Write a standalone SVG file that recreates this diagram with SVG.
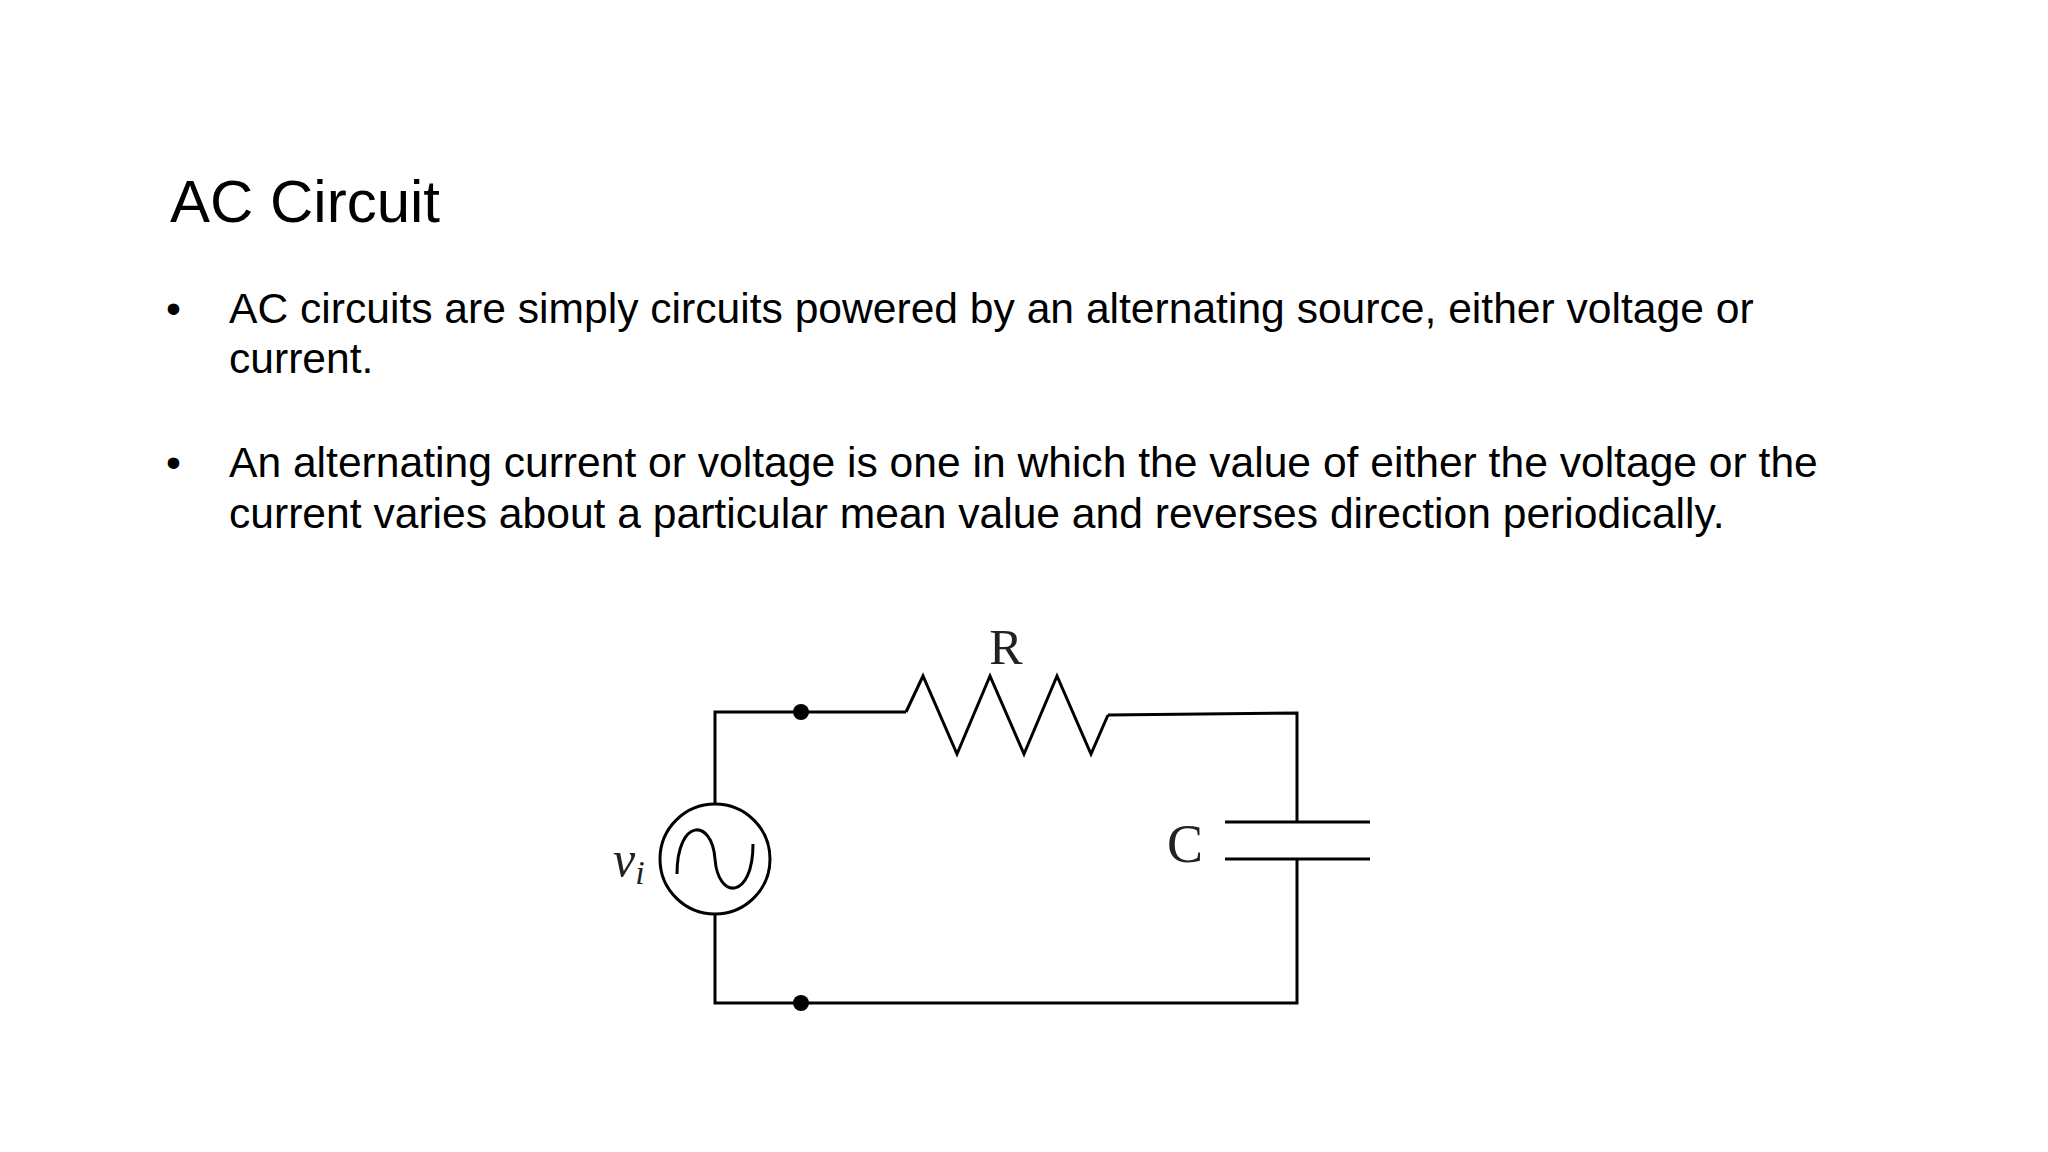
<svg xmlns="http://www.w3.org/2000/svg" width="2048" height="1152" viewBox="0 0 2048 1152">
<style>
.t{font-family:"Liberation Sans",Arial,sans-serif;fill:#000}
.w{stroke:#000;stroke-width:3;fill:none}
.s{font-family:"Liberation Serif","Times New Roman",serif;fill:#222}
</style>
<rect width="2048" height="1152" fill="#fff"/>
<text class="t" x="170" y="222" font-size="60">AC Circuit</text>
<g class="t" font-size="42.6">
<text x="166" y="323">•</text>
<text x="229" y="323">AC circuits are simply circuits powered by an alternating source, either voltage or</text>
<text x="229" y="373">current.</text>
<text x="166" y="477">•</text>
<text x="229" y="477">An alternating current or voltage is one in which the value of either the voltage or the</text>
<text x="229" y="528">current varies about a particular mean value and reverses direction periodically.</text>
</g>
<g id="connectors">
<polyline class="w" points="715,804 715,712 906,712"/>
<polyline class="w" points="715,914 715,1003 1297,1003 1297,859"/>
<polyline class="w" points="1108,715 1297,713 1297,822"/>
</g>
<g id="resistor">
<polyline class="w" points="906,712 923,676 957,754 990,676 1024,754 1057,676 1091,754 1108,715"/>
<text class="s" x="1006" y="664" font-size="50" text-anchor="middle">R</text>
</g>
<g id="capacitor">
<line class="w" x1="1225" y1="822" x2="1370" y2="822"/>
<line class="w" x1="1225" y1="859" x2="1370" y2="859"/>
<text class="s" x="1185" y="862" font-size="54" text-anchor="middle">C</text>
</g>
<g id="source">
<circle class="w" cx="715" cy="859" r="55"/>
<path class="w" d="M677,874 C677,818 712,818 715,859 C718,900 753,900 753,844"/>
<text class="s" x="613" y="876" font-size="50" font-style="italic">v<tspan font-size="34" dy="8">i</tspan></text>
</g>
<g id="nodes">
<circle cx="801" cy="712" r="8"/>
<circle cx="801" cy="1003" r="8"/>
</g>
</svg>
